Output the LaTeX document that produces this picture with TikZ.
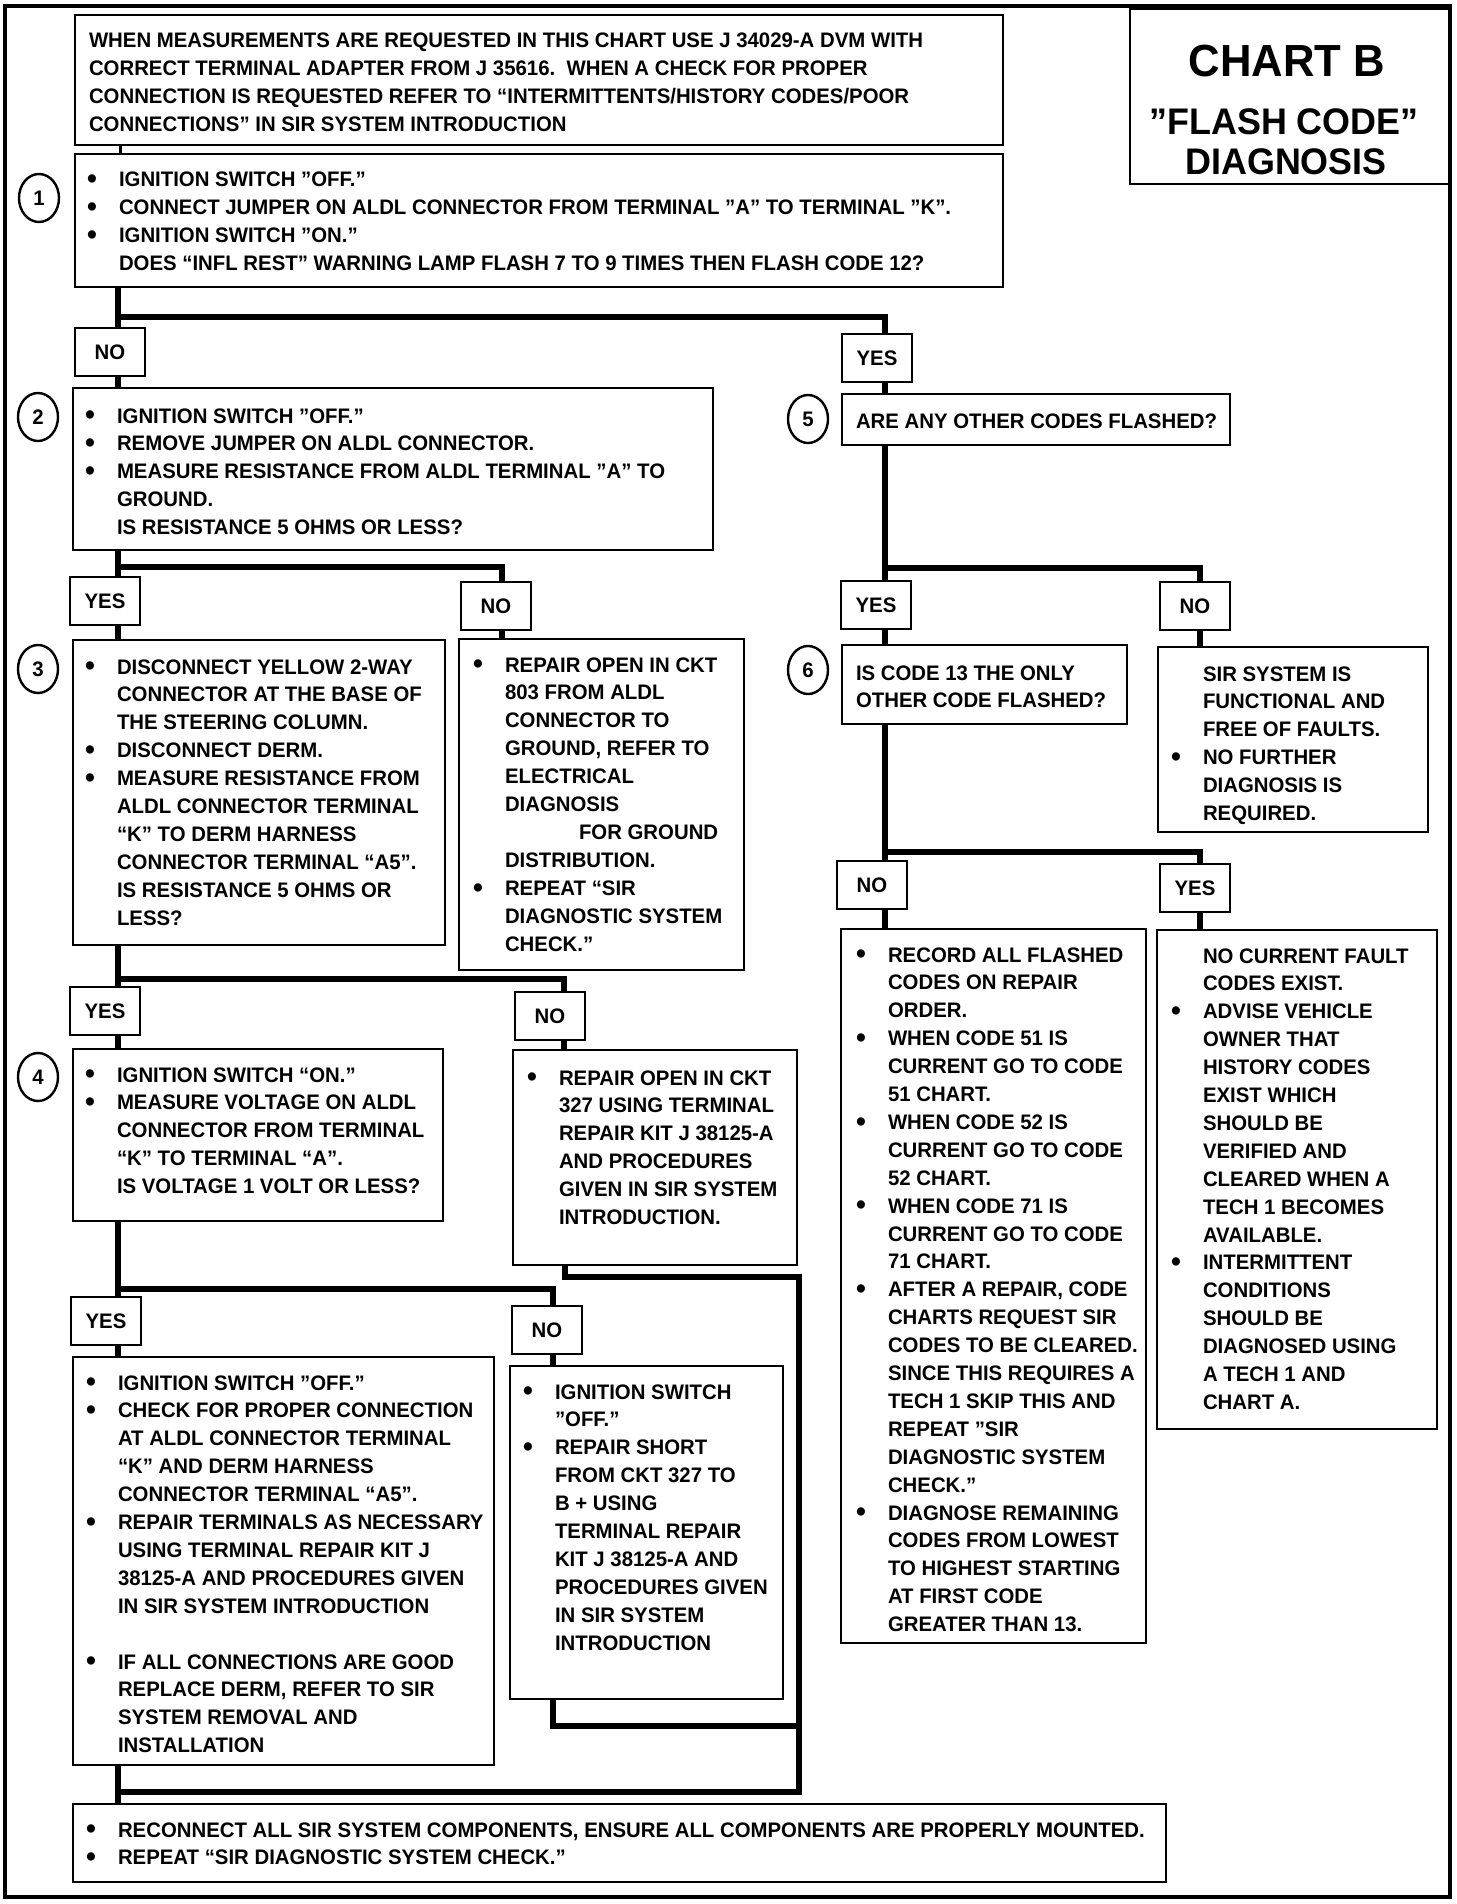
\documentclass[tikz,border=0pt]{standalone}
\usepackage{fontspec}
\setmainfont{Liberation Sans}[FakeStretch=0.97]
\usetikzlibrary{fit,shapes.geometric}
\newenvironment{blist}{\begin{tabular}[t]{@{}p{16pt}@{}l@{}}}{\end{tabular}}
\newenvironment{plist}{\begin{tabular}[t]{@{}l@{}}}{\end{tabular}}
\newcommand{\bu}{\raisebox{-0.9pt}{\fontsize{14.5}{14}\selectfont\textbullet}}
\begin{document}
\begin{tikzpicture}[x=0.5pt,y=-0.5pt,
  box/.style={draw, line width=1.4pt, inner sep=0pt, outer sep=0pt},
  lbl/.style={draw, line width=1.4pt, minimum width=35pt, minimum height=24pt, inner sep=0pt, font=\fontsize{10.5}{12}\selectfont\bfseries},
  txt/.style={anchor=base west, inner sep=0pt, outer sep=0pt, font=\fontsize{10.5}{13.95}\selectfont\bfseries},
  num/.style={draw, ellipse, line width=1.2pt, minimum width=20pt, minimum height=24pt, inner sep=0pt, font=\fontsize{10.5}{12}\selectfont\bfseries},
  conn/.style={line width=3pt},
  link/.style={line width=1.5pt}]
\useasboundingbox (0,0) rectangle (1456,1904);
\fill[white] (0,0) rectangle (1456,1904);
\draw[line width=2pt] (5,6) rectangle (1450,1897);

% boxes
\node[box, fit={(75,15) (1003,145)}] (hdr) {};
\node[box, fit={(1130,9) (1450,184)}] (cb) {};
\node[box, fit={(75,154) (1003,287)}] (b1) {};
\node[box, fit={(73,388) (713,550)}] (b2) {};
\node[box, fit={(73,640) (445,945)}] (b3) {};
\node[box, fit={(459,639) (744,970)}] (b3n) {};
\node[box, fit={(73,1049) (443,1221)}] (b4) {};
\node[box, fit={(513,1050) (797,1265)}] (b4n) {};
\node[box, fit={(73,1357) (494,1765)}] (b7) {};
\node[box, fit={(510,1366) (783,1699)}] (b8) {};
\node[box, fit={(73,1804) (1166,1882)}] (fin) {};
\node[box, fit={(842,394) (1230,445)}] (b5) {};
\node[box, fit={(842,645) (1127,724)}] (b6) {};
\node[box, fit={(1158,647) (1428,832)}] (b5n) {};
\node[box, fit={(841,929) (1146,1643)}] (b9) {};
\node[box, fit={(1157,930) (1437,1429)}] (b10) {};

% title
\node[anchor=base, inner sep=0pt, font=\fontsize{22.5}{24}\selectfont\bfseries] (ttlA) at (1287,77) {CHART B};
\node[anchor=base, inner sep=0pt, font=\fontsize{18.5}{20}\selectfont\bfseries] (ttlB) at (1284,135) {"FLASH CODE"};
\node[anchor=base, inner sep=0pt, font=\fontsize{18.5}{20}\selectfont\bfseries] (ttlC) at (1286,175) {DIAGNOSIS};

% step numbers
\node[num] (n1) at (39,198) {1};
\node[num] (n2) at (38,417) {2};
\node[num] (n3) at (38,669) {3};
\node[num] (n4) at (38,1077) {4};
\node[num] (n5) at (808,419) {5};
\node[num] (n6) at (808,670) {6};

% labels
\node[lbl] (no1) at (110,352) {NO};
\node[lbl] (yes1) at (877,358) {YES};
\node[lbl] (yes2) at (105,601) {YES};
\node[lbl] (no2) at (496,606) {NO};
\node[lbl] (yes3) at (105,1011) {YES};
\node[lbl] (no3) at (550,1016) {NO};
\node[lbl] (yes4) at (106,1321) {YES};
\node[lbl] (no4) at (547,1330) {NO};
\node[lbl] (yes5) at (876,605) {YES};
\node[lbl] (no5) at (1195,606) {NO};
\node[lbl] (no6) at (872,885) {NO};
\node[lbl] (yes6) at (1195,888) {YES};

% texts
\node[txt] (thdr) at (89,48) {\begin{plist}
WHEN MEASUREMENTS ARE REQUESTED IN THIS CHART USE J 34029-A DVM WITH\\
CORRECT TERMINAL ADAPTER FROM J 35616.\ \ WHEN A CHECK FOR PROPER\\
CONNECTION IS REQUESTED REFER TO “INTERMITTENTS/HISTORY CODES/POOR\\
CONNECTIONS” IN SIR SYSTEM INTRODUCTION
\end{plist}};

\node[txt] (t1) at (87,187) {\begin{blist}
\bu & IGNITION SWITCH "OFF."\\
\bu & CONNECT JUMPER ON ALDL CONNECTOR FROM TERMINAL "A" TO TERMINAL "K".\\
\bu & IGNITION SWITCH "ON."\\
 & DOES “INFL REST” WARNING LAMP FLASH 7 TO 9 TIMES THEN FLASH CODE 12?
\end{blist}};

\node[txt] (t2) at (85,423) {\begin{blist}
\bu & IGNITION SWITCH "OFF."\\
\bu & REMOVE JUMPER ON ALDL CONNECTOR.\\
\bu & MEASURE RESISTANCE FROM ALDL TERMINAL "A" TO\\
 & GROUND.\\
 & IS RESISTANCE 5 OHMS OR LESS?
\end{blist}};

\node[txt] (t3) at (85,674) {\begin{blist}
\bu & DISCONNECT YELLOW 2-WAY\\
 & CONNECTOR AT THE BASE OF\\
 & THE STEERING COLUMN.\\
\bu & DISCONNECT DERM.\\
\bu & MEASURE RESISTANCE FROM\\
 & ALDL CONNECTOR TERMINAL\\
 & “K” TO DERM HARNESS\\
 & CONNECTOR TERMINAL “A5”.\\
 & IS RESISTANCE 5 OHMS OR\\
 & LESS?
\end{blist}};

\node[txt] (t3n) at (473,672) {\begin{blist}
\bu & REPAIR OPEN IN CKT\\
 & 803 FROM ALDL\\
 & CONNECTOR TO\\
 & GROUND, REFER TO\\
 & ELECTRICAL\\
 & DIAGNOSIS\\
 & \hspace*{37pt}FOR GROUND\\
 & DISTRIBUTION.\\
\bu & REPEAT “SIR\\
 & DIAGNOSTIC SYSTEM\\
 & CHECK.”
\end{blist}};

\node[txt] (t4) at (85,1082) {\begin{blist}
\bu & IGNITION SWITCH “ON.”\\
\bu & MEASURE VOLTAGE ON ALDL\\
 & CONNECTOR FROM TERMINAL\\
 & “K” TO TERMINAL “A”.\\
 & IS VOLTAGE 1 VOLT OR LESS?
\end{blist}};

\node[txt] (t4n) at (527,1085) {\begin{blist}
\bu & REPAIR OPEN IN CKT\\
 & 327 USING TERMINAL\\
 & REPAIR KIT J 38125-A\\
 & AND PROCEDURES\\
 & GIVEN IN SIR SYSTEM\\
 & INTRODUCTION.
\end{blist}};

\node[txt] (t7) at (86,1390) {\begin{blist}
\bu & IGNITION SWITCH "OFF."\\
\bu & CHECK FOR PROPER CONNECTION\\
 & AT ALDL CONNECTOR TERMINAL\\
 & “K” AND DERM HARNESS\\
 & CONNECTOR TERMINAL “A5”.\\
\bu & REPAIR TERMINALS AS NECESSARY\\
 & USING TERMINAL REPAIR KIT J\\
 & 38125-A AND PROCEDURES GIVEN\\
 & IN SIR SYSTEM INTRODUCTION\\
 & \\
\bu & IF ALL CONNECTIONS ARE GOOD\\
 & REPLACE DERM, REFER TO SIR\\
 & SYSTEM REMOVAL AND\\
 & INSTALLATION
\end{blist}};

\node[txt] (t8) at (523,1399) {\begin{blist}
\bu & IGNITION SWITCH\\
 & "OFF."\\
\bu & REPAIR SHORT\\
 & FROM CKT 327 TO\\
 & B + USING\\
 & TERMINAL REPAIR\\
 & KIT J 38125-A AND\\
 & PROCEDURES GIVEN\\
 & IN SIR SYSTEM\\
 & INTRODUCTION
\end{blist}};

\node[txt] (tfin) at (86,1837) {\begin{blist}
\bu & RECONNECT ALL SIR SYSTEM COMPONENTS, ENSURE ALL COMPONENTS ARE PROPERLY MOUNTED.\\
\bu & REPEAT “SIR DIAGNOSTIC SYSTEM CHECK.”
\end{blist}};

\node[txt] (t5) at (856,428) {ARE ANY OTHER CODES FLASHED?};

\node[txt] (t6) at (856,680) {\begin{plist}
IS CODE 13 THE ONLY\\
OTHER CODE FLASHED?
\end{plist}};

\node[txt] (t5n) at (1171,681) {\begin{blist}
 & SIR SYSTEM IS\\
 & FUNCTIONAL AND\\
 & FREE OF FAULTS.\\
\bu & NO FURTHER\\
 & DIAGNOSIS IS\\
 & REQUIRED.
\end{blist}};

\node[txt] (t9) at (856,962) {\begin{blist}
\bu & RECORD ALL FLASHED\\
 & CODES ON REPAIR\\
 & ORDER.\\
\bu & WHEN CODE 51 IS\\
 & CURRENT GO TO CODE\\
 & 51 CHART.\\
\bu & WHEN CODE 52 IS\\
 & CURRENT GO TO CODE\\
 & 52 CHART.\\
\bu & WHEN CODE 71 IS\\
 & CURRENT GO TO CODE\\
 & 71 CHART.\\
\bu & AFTER A REPAIR, CODE\\
 & CHARTS REQUEST SIR\\
 & CODES TO BE CLEARED.\\
 & SINCE THIS REQUIRES A\\
 & TECH 1 SKIP THIS AND\\
 & REPEAT "SIR\\
 & DIAGNOSTIC SYSTEM\\
 & CHECK."\\
\bu & DIAGNOSE REMAINING\\
 & CODES FROM LOWEST\\
 & TO HIGHEST STARTING\\
 & AT FIRST CODE\\
 & GREATER THAN 13.
\end{blist}};

\node[txt] (t10) at (1171,963) {\begin{blist}
 & NO CURRENT FAULT\\
 & CODES EXIST.\\
\bu & ADVISE VEHICLE\\
 & OWNER THAT\\
 & HISTORY CODES\\
 & EXIST WHICH\\
 & SHOULD BE\\
 & VERIFIED AND\\
 & CLEARED WHEN A\\
 & TECH 1 BECOMES\\
 & AVAILABLE.\\
\bu & INTERMITTENT\\
 & CONDITIONS\\
 & SHOULD BE\\
 & DIAGNOSED USING\\
 & A TECH 1 AND\\
 & CHART A.
\end{blist}};

% junction coordinates
\coordinate (j0) at (120,150);
\coordinate (j1) at (118,317);
\coordinate (j1r) at (885,317);
\coordinate (j2) at (118,567);
\coordinate (j2r) at (502,567);
\coordinate (j3) at (118,979);
\coordinate (j3r) at (564,979);
\coordinate (j4) at (118,1289);
\coordinate (j4r) at (553,1289);
\coordinate (k1) at (565,1277);
\coordinate (r1) at (799,1277);
\coordinate (rb) at (799,1792);
\coordinate (lb) at (118,1792);
\coordinate (k2) at (553,1726);
\coordinate (j5) at (885,568);
\coordinate (j5r) at (1200,568);
\coordinate (j6) at (885,852);
\coordinate (j6r) at (1200,852);

% connectors
\draw[link] (hdr.south -| j0) -- (b1.north -| j0);
\draw[conn] (b1.south -| j1) -- (no1.north -| j1);
\draw[conn] (j1) -- (j1r) -- (yes1.north -| j1r);
\draw[conn] (no1.south -| j1) -- (b2.north -| j1);
\draw[conn] (yes1.south -| j1r) -- (b5.north -| j1r);

\draw[conn] (b2.south -| j2) -- (yes2.north -| j2);
\draw[conn] (j2) -- (j2r) -- (no2.north -| j2r);
\draw[conn] (yes2.south -| j2) -- (b3.north -| j2);
\draw[conn] (no2.south -| j2r) -- (b3n.north -| j2r);

\draw[conn] (b3.south -| j3) -- (yes3.north -| j3);
\draw[conn] (j3) -- (j3r) -- (no3.north -| j3r);
\draw[conn] (yes3.south -| j3) -- (b4.north -| j3);
\draw[conn] (no3.south -| j3r) -- (b4n.north -| j3r);

\draw[conn] (b4.south -| j4) -- (yes4.north -| j4);
\draw[conn] (j4) -- (j4r) -- (no4.north -| j4r);
\draw[conn] (yes4.south -| j4) -- (b7.north -| j4);
\draw[conn] (no4.south -| j4r) -- (b8.north -| j4r);

\draw[conn] (b4n.south -| k1) -- (k1) -- (r1) -- (rb) -- (lb);
\draw[conn] (b8.south -| k2) -- (k2) -- (k2 -| r1);
\draw[conn] (b7.south -| j4) -- (fin.north -| j4);

\draw[conn] (b5.south -| j5) -- (yes5.north -| j5);
\draw[conn] (j5) -- (j5r) -- (no5.north -| j5r);
\draw[conn] (yes5.south -| j5) -- (b6.north -| j5);
\draw[conn] (no5.south -| j5r) -- (b5n.north -| j5r);

\draw[conn] (b6.south -| j6) -- (no6.north -| j6);
\draw[conn] (j6) -- (j6r) -- (yes6.north -| j6r);
\draw[conn] (no6.south -| j6) -- (b9.north -| j6);
\draw[conn] (yes6.south -| j6r) -- (b10.north -| j6r);
\end{tikzpicture}
\end{document}
